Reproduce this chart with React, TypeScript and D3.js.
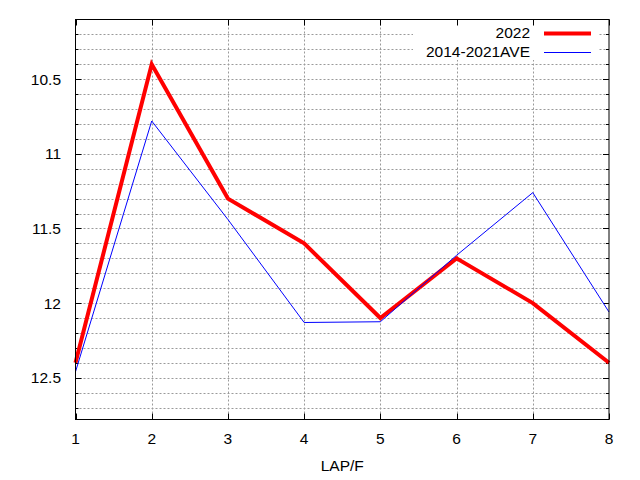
import React from 'react';
import * as d3 from 'd3';

// lap number on x
const laps = [1, 2, 3, 4, 5, 6, 7, 8];
// 2022 times
const y2022 = [12.4, 10.4, 11.3, 11.6, 12.1, 11.7, 12.0, 12.4];
// 2014-2021 average
const yAve = [12.46, 10.78, 11.44, 12.13, 12.125, 11.68, 11.26, 12.06];
const yMajor = [10.5, 11, 11.5, 12, 12.5];
const yMinor = d3.range(102, 128).map((d) => d / 10);

const series = [
  { name: '2022', values: y2022, color: '#ff0000', width: 4 },
  { name: '2014-2021AVE', values: yAve, color: '#0000ff', width: 1 },
];

const width = 640;
const height = 480;
const margin = { top: 19.5, right: 31, bottom: 60.5, left: 75.5 };
const font = '"Liberation Sans", Arial, sans-serif';

export default function App() {
  const x = d3.scaleLinear().domain([1, 8]).range([margin.left, width - margin.right]);
  const y = d3.scaleLinear().domain([10.1, 12.78]).range([margin.top, height - margin.bottom]);
  const x0 = x.range()[0];
  const x1 = x.range()[1];
  const y0 = y.range()[0];
  const y1 = y.range()[1];

  const line = (vals: number[]) =>
    d3.line<number>()
      .x((_, i) => x(laps[i]))
      .y((d) => y(d))(vals) || '';

  const isMajor = (v: number) => yMajor.some((m) => Math.abs(m - v) < 1e-6);

  return (
    <svg width={width} height={height} style={{ position: 'absolute', left: 0, top: 0, background: '#fff' }}
      fontFamily={font} fontSize={15.5}>
      {/* grid */}
      <g stroke="#9a9a9a" strokeWidth={1} strokeDasharray="2,2">
        {yMinor.map((v) => (
          <line key={'gy' + v} x1={x0} x2={x1} y1={Math.round(y(v)) + 0.5} y2={Math.round(y(v)) + 0.5} />
        ))}
        {laps.slice(1, -1).map((v) => (
          <line key={'gx' + v} x1={Math.round(x(v)) + 0.5} x2={Math.round(x(v)) + 0.5} y1={y0} y2={y1} />
        ))}
      </g>

      {/* legend box hides grid */}
      <rect x={413} y={24} width={186} height={36} fill="#fff" />

      {/* ticks */}
      <g stroke="#000" strokeWidth={1}>
        {yMinor.map((v) => {
          const len = isMajor(v) ? 6 : 3;
          const yy = Math.round(y(v)) + 0.5;
          return (
            <g key={'ty' + v}>
              <line x1={x0} x2={x0 + len} y1={yy} y2={yy} />
              <line x1={x1} x2={x1 - len} y1={yy} y2={yy} />
            </g>
          );
        })}
        {laps.map((v) => {
          const xx = Math.round(x(v)) + 0.5;
          return (
            <g key={'tx' + v}>
              <line x1={xx} x2={xx} y1={y1} y2={y1 - 6} />
              <line x1={xx} x2={xx} y1={y0} y2={y0 + 6} />
            </g>
          );
        })}
      </g>

      {/* series */}
      {series.map((s) => (
        <path key={s.name} d={line(s.values)} fill="none" stroke={s.color} strokeWidth={s.width}
          strokeLinejoin="miter" />
      ))}

      {/* border */}
      <rect x={x0} y={y0} width={x1 - x0} height={y1 - y0} fill="none" stroke="#000" strokeWidth={1} />

      {/* tick labels */}
      {yMajor.map((v) => (
        <text key={'ly' + v} x={61} y={y(v)} textAnchor="end" dominantBaseline="central" fill="#000">
          {String(v)}
        </text>
      ))}
      {laps.map((v) => (
        <text key={'lx' + v} x={x(v)} y={438} textAnchor="middle" dominantBaseline="central" fill="#000">
          {v}
        </text>
      ))}
      <text x={(x0 + x1) / 2} y={465} textAnchor="middle" dominantBaseline="central" fill="#000">LAP/F</text>

      {/* legend */}
      {series.map((s, i) => {
        const ly = 33.5 + i * 19;
        return (
          <g key={'lg' + s.name}>
            <text x={530} y={ly - 1} textAnchor="end" dominantBaseline="central" fill="#000">{s.name}</text>
            <line x1={544} x2={591} y1={ly} y2={ly} stroke={s.color} strokeWidth={s.width} />
          </g>
        );
      })}
    </svg>
  );
}
